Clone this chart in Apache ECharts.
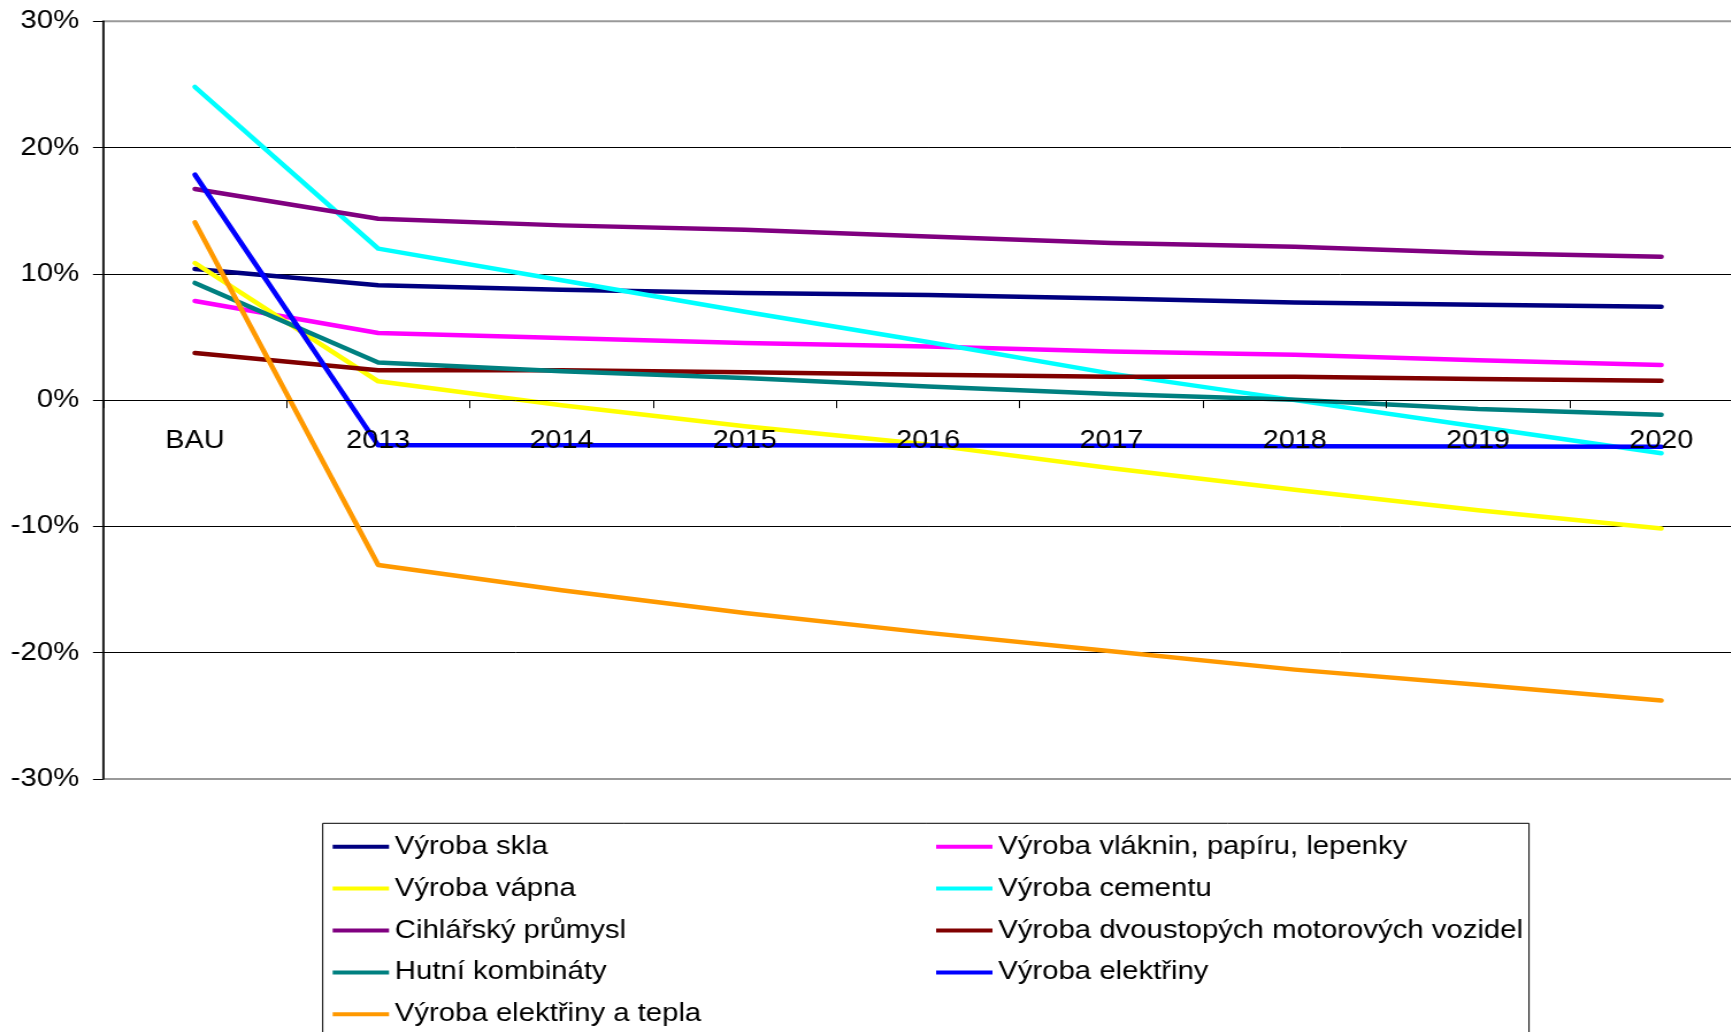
<!DOCTYPE html>
<html>
<head>
<meta charset="utf-8">
<script src="https://cdn.jsdelivr.net/npm/echarts@6/dist/echarts.min.js"></script>
<style>
  html, body { margin: 0; padding: 0; background: #fff; overflow: hidden; }
  #frame { width: 1731px; height: 1032px; overflow: hidden; position: relative; }
  /* the chart is laid out narrow and widened horizontally */
  #chart { position: absolute; left: 0; top: 0; width: 1531px; height: 1032px;
           transform: scaleX(1.15); transform-origin: 0 0; }
</style>
</head>
<body>
<div id="frame"><div id="chart"></div></div>
<script>
const categories = ['BAU', '2013', '2014', '2015', '2016', '2017', '2018', '2019', '2020'];

const vyrobaSkla      = [10.39, 9.09, 8.75, 8.49, 8.33, 8.04, 7.74, 7.56, 7.40];
const vyrobaVlaknin   = [7.85, 5.32, 4.92, 4.53, 4.24, 3.86, 3.60, 3.15, 2.79];
const vyrobaVapna     = [10.86, 1.49, -0.40, -2.07, -3.52, -5.40, -7.09, -8.72, -10.17];
const vyrobaCementu   = [24.8, 12.0, 9.5, 7.0, 4.6, 2.1, 0.0, -2.1, -4.2];
const cihlarsky       = [16.72, 14.37, 13.84, 13.50, 12.95, 12.45, 12.15, 11.65, 11.36];
const dvoustopa       = [3.74, 2.36, 2.36, 2.20, 2.02, 1.86, 1.86, 1.68, 1.54];
const hutni           = [9.28, 2.99, 2.28, 1.76, 1.09, 0.49, 0.04, -0.70, -1.15];
const elektriny       = [17.85, -3.58, -3.58, -3.58, -3.60, -3.62, -3.66, -3.68, -3.70];
const elektrinyTepla  = [14.08, -13.05, -15.06, -16.85, -18.43, -19.89, -21.34, -22.53, -23.79];

const yTicks = { min: -30, max: 30, interval: 10 };

const seriesDefs = [
  { name: 'Výroba skla', data: vyrobaSkla, color: '#000080' },
  { name: 'Výroba vláknin, papíru, lepenky', data: vyrobaVlaknin, color: '#FF00FF' },
  { name: 'Výroba vápna', data: vyrobaVapna, color: '#FFFF00' },
  { name: 'Výroba cementu', data: vyrobaCementu, color: '#00FFFF' },
  { name: 'Cihlářský průmysl', data: cihlarsky, color: '#800080' },
  { name: 'Výroba dvoustopých motorových vozidel', data: dvoustopa, color: '#800000' },
  { name: 'Hutní kombináty', data: hutni, color: '#008080' },
  { name: 'Výroba elektřiny', data: elektriny, color: '#0000FF' },
  { name: 'Výroba elektřiny a tepla', data: elektrinyTepla, color: '#FF9900' }
];

const leftColumn = ['Výroba skla', 'Výroba vápna', 'Cihlářský průmysl', 'Hutní kombináty', 'Výroba elektřiny a tepla'];
const rightColumn = ['Výroba vláknin, papíru, lepenky', 'Výroba cementu', 'Výroba dvoustopých motorových vozidel', 'Výroba elektřiny'];

const FONT = '"Liberation Sans", Arial, sans-serif';

// plot area geometry (layout units, before the horizontal widening)
const GRID_TOP = 21.3;
const GRID_BOTTOM_Y = 779;
const CHART_H = 1032;
// the category axis sits on the 0 % line, halfway down the symmetric value range
const zeroOffset = -(GRID_BOTTOM_Y - GRID_TOP) * (0 - yTicks.min) / (yTicks.max - yTicks.min);

const legendBase = {
  orient: 'vertical',
  padding: 0,
  icon: 'rect',
  itemWidth: 49,
  itemHeight: 4,
  itemGap: 11.9,
  top: 831.7,
  textStyle: { fontFamily: FONT, fontSize: 25.5, color: '#000', lineHeight: 30 },
  selectedMode: false
};

const chart = echarts.init(document.getElementById('chart'), null, { renderer: 'canvas' });

chart.setOption({
  animation: false,
  backgroundColor: '#fff',
  grid: {
    left: 89.8, right: 6.7, top: GRID_TOP, bottom: CHART_H - GRID_BOTTOM_Y,
    show: true, borderColor: '#999', borderWidth: 2, backgroundColor: 'transparent'
  },
  xAxis: {
    type: 'category',
    data: categories,
    boundaryGap: true,
    position: 'bottom',
    offset: zeroOffset,
    z: 5,
    axisLine: { onZero: false, lineStyle: { color: '#000', width: 1 } },
    axisTick: { show: true, length: 8, lineStyle: { color: '#000', width: 1 } },
    axisLabel: { color: '#000', fontFamily: FONT, fontSize: 25, margin: 28, interval: 0 },
    splitLine: { show: false }
  },
  yAxis: {
    type: 'value',
    min: yTicks.min, max: yTicks.max, interval: yTicks.interval,
    axisLine: { show: true, lineStyle: { color: '#000', width: 1.5 } },
    axisTick: { show: true, length: 9, lineStyle: { color: '#000', width: 1 } },
    axisLabel: { color: '#000', fontFamily: FONT, fontSize: 25.5, margin: 21, formatter: '{value}%' },
    splitLine: {
      show: true,
      lineStyle: { color: ['transparent', '#000', '#000', '#000', '#000', '#000', 'transparent'], width: 1 }
    }
  },
  legend: [
    Object.assign({}, legendBase, { left: 289.3, data: leftColumn }),
    Object.assign({}, legendBase, { left: 814, data: rightColumn })
  ],
  graphic: [{
    type: 'rect',
    shape: { x: 280.6, y: 823.3, width: 1049, height: 260 },
    style: { fill: 'none', stroke: '#000', lineWidth: 1 },
    silent: true,
    z: -1
  }],
  series: seriesDefs.map(d => ({
    name: d.name,
    type: 'line',
    data: d.data,
    symbol: 'none',
    showSymbol: false,
    smooth: false,
    color: d.color,
    lineStyle: { color: d.color, width: 4.5, cap: 'round', join: 'round' }
  }))
});
</script>
</body>
</html>
